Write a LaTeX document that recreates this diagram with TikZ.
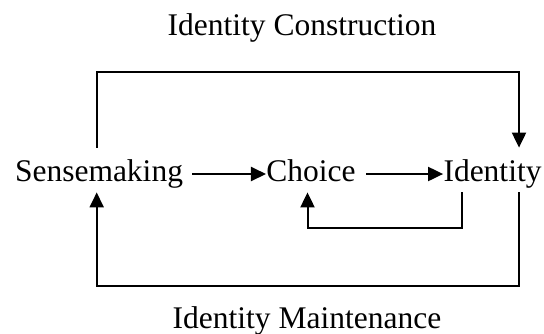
\documentclass[tikz,border=0pt]{standalone}
\usepackage{fontspec}
\setmainfont{Liberation Serif}
\usetikzlibrary{arrows.meta}

\begin{document}
\begin{tikzpicture}[
  x=0.5pt,y=-0.5pt,
  every node/.style={font=\fontsize{15.75}{18}\selectfont},
  term/.style={inner sep=0pt,text height=16.5pt,text depth=5.5pt,anchor=base},
  lbl/.style={inner sep=0pt,anchor=base},
  arr/.style={-{Triangle[length=7.5pt,width=7pt]},line width=1pt,color=black}
]
\useasboundingbox (0,0) rectangle (544,333);
\node[lbl] (constr) at (302,35) {Identity Construction};
\node[term] (sense) at (99,181) {Sensemaking};
\node[term] (choice) at (311,181) {Choice};
\node[term] (ident) at (492.5,181) {Identity};
\node[lbl] (maint) at (307,328) {Identity Maintenance};
\coordinate (nw) at (96.7,72);
\coordinate (ne) at (519,72);
\coordinate (sw) at (96.7,286);
\coordinate (se) at (519,286);
\coordinate (fbr) at (462,228);
\coordinate (fbl) at (307.5,228);
\draw[arr,shorten <=4.5pt] ([yshift=-2pt]sense.east) -- ([yshift=-2pt]choice.west);
\draw[arr,shorten <=5pt] ([yshift=-2pt]choice.east) -- ([yshift=-2pt]ident.west);
\draw[arr] (sense.north -| nw) -- (nw) -- (ne) -- (ident.north -| ne);
\draw[arr] (ident.south -| se) -- (se) -- (sw) -- (sense.south -| sw);
\draw[arr] (ident.south -| fbr) -- (fbr) -- (fbl) -- (choice.south -| fbl);
\end{tikzpicture}
\end{document}
